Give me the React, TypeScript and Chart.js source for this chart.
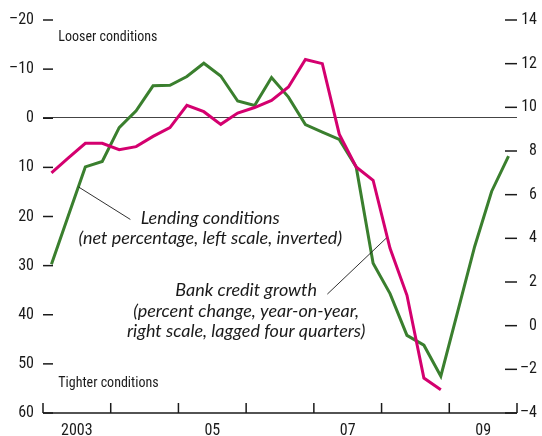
import React, { useEffect, useRef } from "react";
import { Chart, registerables } from "chart.js";

Chart.register(...registerables);

// Quarterly categories, 2003 Q1 – 2009 Q4
const QUARTERS = [
  "2003Q1", "2003Q2", "2003Q3", "2003Q4",
  "2004Q1", "2004Q2", "2004Q3", "2004Q4",
  "2005Q1", "2005Q2", "2005Q3", "2005Q4",
  "2006Q1", "2006Q2", "2006Q3", "2006Q4",
  "2007Q1", "2007Q2", "2007Q3", "2007Q4",
  "2008Q1", "2008Q2", "2008Q3", "2008Q4",
  "2009Q1", "2009Q2", "2009Q3", "2009Q4",
];

// Lending conditions (net percentage, left scale, inverted)
const LENDING = [
  29.7, 19.8, 9.9, 8.8, 1.9, -1.5, -6.6, -6.7,
  -8.5, -11.2, -8.6, -3.5, -2.6, -8.3, -4.3, 1.3,
  2.8, 4.3, 9.9, 29.5, 35.7, 44.2, 46.2, 52.5,
  39.3, 26.1, 14.9, 7.7,
];

// Bank credit growth (percent change y/y, right scale, lagged four quarters)
const CREDIT = [
  7.0, 7.68, 8.35, 8.35, 8.06, 8.2, 8.67, 9.07,
  10.09, 9.8, 9.22, 9.74, 9.99, 10.32, 10.93, 12.19,
  12.0, 8.77, 7.27, 6.66, 3.54, 1.39, -2.4, -2.93,
];

const X_TICK_POS = [2003.5, 2005.5, 2007.5, 2009.5];
const X_TICK_LABELS = ["2003", "05", "07", "09"];
const YEAR_MARKS = [2003, 2004, 2005, 2006, 2007, 2008, 2009, 2010];

const GREEN = "#3a7f2e";
const PINK = "#d4006f";
const INK = "#1a1a1a";
const COND = "'Noto Sans Condensed', 'Roboto Condensed', 'Liberation Sans Narrow', 'DejaVu Sans Condensed', sans-serif";
const ITAL = "Lato, 'Noto Sans', sans-serif";

function qToX(q: string): number {
  const y = parseInt(q.slice(0, 4), 10);
  const n = parseInt(q.slice(5), 10);
  return y + (n - 0.5) / 4;
}

function fmtNum(v: number): string {
  return v < 0 ? "\u2013" + Math.abs(v) : String(v);
}

// annotation positions in data units (x: year, y: left scale)
const NOTES = [
  { text: "Looser conditions", x: 2003.226, y: -16.5, align: "left", font: `14px ${COND}` },
  { text: "Tighter conditions", x: 2003.226, y: 53.95, align: "left", font: `14px ${COND}` },
  { text: "Lending conditions", x: 2005.47, y: 20.4, align: "center", font: `italic 18px ${ITAL}` },
  { text: "(net percentage, left scale, inverted)", x: 2005.47, y: 24.35, align: "center", font: `italic 18px ${ITAL}` },
  { text: "Bank credit growth", x: 2006.0, y: 35.0, align: "center", font: `italic 18px ${ITAL}` },
  { text: "(percent change, year-on-year,", x: 2006.0, y: 39.3, align: "center", font: `italic 18px ${ITAL}` },
  { text: "right scale, lagged four quarters)", x: 2006.0, y: 43.4, align: "center", font: `italic 18px ${ITAL}` },
];
const LEADERS = [
  { x1: 2003.526, y1: 14.0, x2: 2004.29, y2: 20.6 },
  { x1: 2007.199, y1: 35.8, x2: 2008.07, y2: 24.4 },
];

const decorPlugin = {
  id: "decor",
  beforeDatasetsDraw(chart: any) {
    const { ctx, chartArea } = chart;
    const yL = chart.scales.yL;
    const y0 = Math.round(yL.getPixelForValue(0)) - 0.5;
    ctx.save();
    ctx.strokeStyle = "#444";
    ctx.lineWidth = 1.2;
    ctx.beginPath();
    ctx.moveTo(chartArea.left, y0);
    ctx.lineTo(chartArea.right, y0);
    ctx.stroke();
    ctx.restore();
  },
  afterDatasetsDraw(chart: any) {
    const { ctx, chartArea } = chart;
    const x = chart.scales.x;
    const yL = chart.scales.yL;
    const yR = chart.scales.yR;
    ctx.save();
    ctx.strokeStyle = INK;
    ctx.lineWidth = 1.5;
    ctx.beginPath();
    ctx.moveTo(chartArea.left, chartArea.bottom);
    ctx.lineTo(chartArea.right, chartArea.bottom);
    ctx.stroke();
    YEAR_MARKS.forEach((yr) => {
      const px = x.getPixelForValue(yr);
      ctx.beginPath();
      ctx.moveTo(px, chartArea.bottom);
      ctx.lineTo(px, chartArea.bottom - 10);
      ctx.stroke();
    });
    yL.ticks.forEach((t: any) => {
      const py = yL.getPixelForValue(t.value);
      ctx.beginPath();
      ctx.moveTo(chartArea.left, py);
      ctx.lineTo(chartArea.left + 10, py);
      ctx.stroke();
    });
    yR.ticks.forEach((t: any) => {
      const py = yR.getPixelForValue(t.value);
      ctx.beginPath();
      ctx.moveTo(chartArea.right - 12, py);
      ctx.lineTo(chartArea.right, py);
      ctx.stroke();
    });
    ctx.lineWidth = 0.9;
    LEADERS.forEach((l) => {
      ctx.beginPath();
      ctx.moveTo(x.getPixelForValue(l.x1), yL.getPixelForValue(l.y1));
      ctx.lineTo(x.getPixelForValue(l.x2), yL.getPixelForValue(l.y2));
      ctx.stroke();
    });
    ctx.fillStyle = INK;
    ctx.textBaseline = "middle";
    NOTES.forEach((n) => {
      ctx.font = n.font;
      ctx.textAlign = n.align as CanvasTextAlign;
      ctx.fillText(n.text, x.getPixelForValue(n.x), yL.getPixelForValue(n.y));
    });
    ctx.restore();
  },
};

export default function App() {
  const ref = useRef<HTMLCanvasElement | null>(null);
  useEffect(() => {
    if (!ref.current) return;
    const greenPts = QUARTERS.map((q, i) => ({ x: qToX(q), y: LENDING[i] }));
    const pinkPts = CREDIT.map((v, i) => ({ x: qToX(QUARTERS[i]), y: v }));
    const tickFont = { family: COND, size: 16 };
    const chart = new Chart(ref.current, {
      type: "line",
      data: {
        datasets: [
          {
            label: "Bank credit growth",
            data: pinkPts,
            yAxisID: "yR",
            borderColor: PINK,
            borderWidth: 3,
            pointRadius: 0,
            tension: 0,
            fill: false,
          },
          {
            label: "Lending conditions",
            data: greenPts,
            yAxisID: "yL",
            borderColor: GREEN,
            borderWidth: 3,
            pointRadius: 0,
            tension: 0,
            fill: false,
          },
        ],
      },
      options: {
        responsive: false,
        animation: false,
        layout: { padding: { top: 20, right: 5, left: 0, bottom: 0 } },
        plugins: { legend: { display: false }, tooltip: { enabled: false } },
        scales: {
          x: {
            type: "linear",
            min: 2003,
            max: 2010,
            grid: { display: false },
            border: { display: false },
            afterBuildTicks: (s: any) => {
              s.ticks = X_TICK_POS.map((v) => ({ value: v }));
            },
            afterFit: (s: any) => {
              s.height = 23;
            },
            ticks: {
              padding: 0,
              color: INK,
              font: tickFont,
              maxRotation: 0,
              autoSkip: false,
              callback: (v: any) => {
                const i = X_TICK_POS.indexOf(Number(v));
                return i >= 0 ? X_TICK_LABELS[i] : "";
              },
            },
          },
          yL: {
            type: "linear",
            position: "left",
            reverse: true,
            min: -20,
            max: 60,
            grid: { display: false, drawTicks: false },
            border: { display: false },
            afterFit: (s: any) => {
              s.width = 43;
            },
            ticks: {
              stepSize: 10,
              padding: 9,
              color: INK,
              font: tickFont,
              callback: (v: any) => fmtNum(Number(v)),
            },
          },
          yR: {
            type: "linear",
            position: "right",
            min: -4,
            max: 14,
            grid: { display: false, drawTicks: false },
            border: { display: false },
            afterFit: (s: any) => {
              s.width = 20;
            },
            ticks: {
              stepSize: 2,
              padding: 6,
              crossAlign: "far",
              color: INK,
              font: tickFont,
              callback: (v: any) => fmtNum(Number(v)),
            },
          },
        },
      },
      plugins: [decorPlugin],
    });
    return () => chart.destroy();
  }, []);
  return (
    <div style={{ position: "fixed", left: 0, top: 0, width: 542, height: 436, background: "#fff" }}>
      <canvas ref={ref} width={542} height={436} style={{ width: 542, height: 436, display: "block" }} />
    </div>
  );
}
